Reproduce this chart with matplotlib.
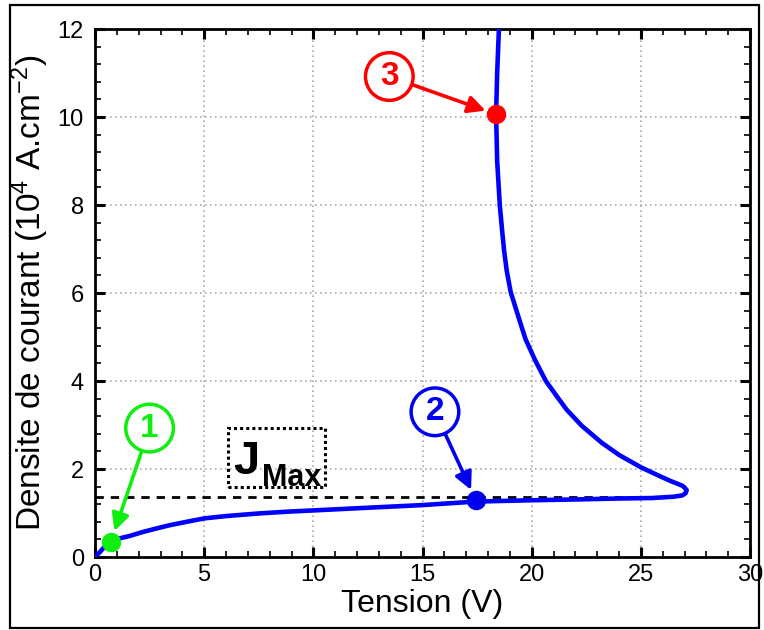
"""
    Courbe densite de courant / tension avec les points 1, 2, 3 et J_Max.
"""

import matplotlib
matplotlib.use("Agg")
import matplotlib.pyplot as plt
from matplotlib.patches import Rectangle
from matplotlib.ticker import MultipleLocator

# ---------------- donnees ----------------
# branche basse puis branche haute (retour apres le "nez" a ~27 V)
tension = [0, 0.2, 0.45, 0.73, 1.1, 1.6, 2.2, 2.83, 3.4, 3.9, 4.5, 5.04,
           6.0, 7.5, 8.8, 10.06, 12.5, 15.0, 17.44, 20.0, 22.2, 24.0, 25.5,
           26.5, 26.9, 27.05, 27.1, 27.0, 26.9, 26.4, 25.9, 25.0, 24.0,
           23.2, 22.3, 21.6, 21.2, 20.65, 20.15, 19.72, 19.43, 19.04,
           18.86, 18.74, 18.65, 18.54, 18.42, 18.37, 18.42, 18.5]
densite = [0, 0.1, 0.24, 0.35, 0.42, 0.48, 0.57, 0.65, 0.72, 0.77, 0.83,
           0.88, 0.93, 0.99, 1.03, 1.06, 1.12, 1.18, 1.26, 1.29, 1.31, 1.33,
           1.34, 1.37, 1.40, 1.45, 1.52, 1.58, 1.62, 1.72, 1.83, 2.04, 2.32,
           2.6, 2.98, 3.35, 3.62, 4.0, 4.48, 4.95, 5.4, 6.02,
           6.5, 6.95, 7.4, 8.0, 9.0, 10.05, 11.0, 12.0]

point_labels = ["1", "2", "3"]
point_v = [0.73, 17.44, 18.37]
point_j = [0.35, 1.295, 10.06]
point_colors = ["#10ee10", "#0000ee", "#ff0000"]
# position des cercles numerotes
circle_v = [2.50, 15.57, 13.48]
circle_j = [2.93, 3.30, 10.92]

j_max = 1.365
j_max_v_end = 26.5

plt.rcParams["font.family"] = ["Liberation Sans", "DejaVu Sans"]
plt.rcParams["mathtext.fontset"] = "custom"
plt.rcParams["mathtext.rm"] = "Liberation Sans"
plt.rcParams["mathtext.bf"] = "Liberation Sans:bold"
plt.rcParams["mathtext.default"] = "regular"

fig = plt.figure(figsize=(7.64, 6.30), dpi=100)
ax = fig.add_axes([95 / 764, 1 - 557 / 630, 655 / 764, 528 / 630])

# cadre exterieur
fig.patches.append(Rectangle((10 / 764, 2 / 630), 749 / 764, 623 / 630,
                             transform=fig.transFigure, fill=False,
                             edgecolor="black", linewidth=1.6))

ax.plot(tension, densite, color="#0000ff", linewidth=3.3, zorder=3,
        solid_capstyle="round", solid_joinstyle="round")
ax.plot([0, j_max_v_end], [j_max, j_max], color="black",
        linestyle=(0, (3, 2.5)), linewidth=2.0, zorder=2)

for lab, v, j, c, cv, cj in zip(point_labels, point_v, point_j, point_colors,
                                circle_v, circle_j):
    ax.plot(v, j, "o", color=c, markersize=13, zorder=5)
    ax.annotate(lab, xy=(v, j), xytext=(cv, cj), color=c, fontsize=24,
                fontweight="bold", ha="center", va="center", zorder=6,
                bbox=dict(boxstyle="circle,pad=0.25", facecolor="white",
                          edgecolor=c, linewidth=2.5),
                arrowprops=dict(arrowstyle="-|>", color=c, linewidth=2.6,
                                mutation_scale=26, shrinkA=0, shrinkB=8))

# boite J_Max
ax.add_patch(Rectangle((6.10, 1.59), 4.44, 1.34, fill=False, edgecolor="black",
                       linewidth=2.2, linestyle=(0, (1, 1)), zorder=4))
ax.text(6.33, 1.89, "J", fontsize=34, fontweight="bold", ha="left",
        va="baseline", zorder=5)
ax.text(7.64, 1.61, "Max", fontsize=22, fontweight="bold", ha="left",
        va="baseline", zorder=5)

ax.set_xlim(0, 30)
ax.set_ylim(0, 12)
ax.xaxis.set_major_locator(MultipleLocator(5))
ax.xaxis.set_minor_locator(MultipleLocator(1))
ax.yaxis.set_major_locator(MultipleLocator(2))
ax.yaxis.set_minor_locator(MultipleLocator(0.4))
ax.tick_params(which="both", direction="in", top=True, right=True,
               labelsize=17)
ax.tick_params(which="major", length=7, width=2.2)
ax.tick_params(which="minor", length=4, width=1.2)
ax.tick_params(axis="x", pad=5)
ax.tick_params(axis="y", pad=8)
for s in ax.spines.values():
    s.set_linewidth(2)

ax.grid(True, which="major", color="#aaaaaa", linestyle=(0, (1, 2)),
        linewidth=1.2)
ax.set_axisbelow(True)

ax.set_xlabel("Tension (V)", fontsize=23, labelpad=2)
ax.set_ylabel(r"Densite de courant (10$^4$ A.cm$^{-2}$)", fontsize=24,
              labelpad=5)

fig.savefig("out.png", dpi=100)
